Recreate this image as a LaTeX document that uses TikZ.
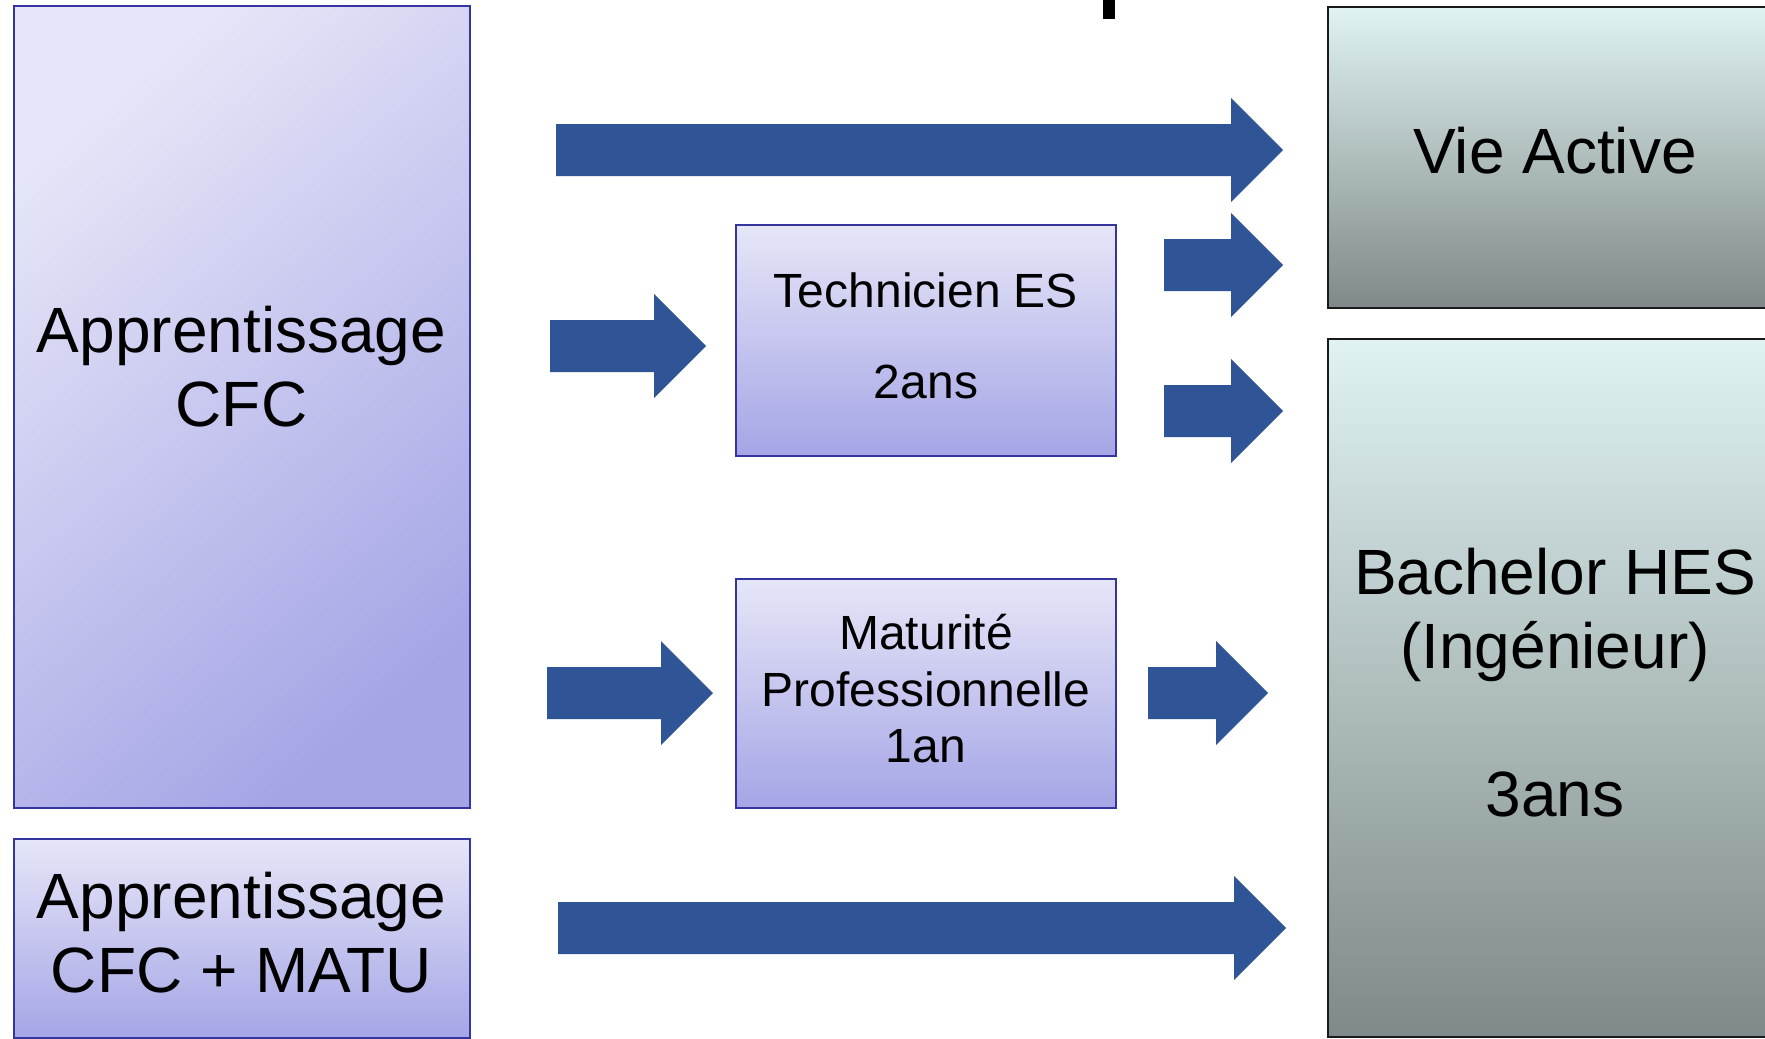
\documentclass[tikz,border=0pt]{standalone}
\usepackage{fontspec}
\setmainfont{Liberation Sans}
\definecolor{lavTop}{HTML}{E6E6F8}
\definecolor{lavBot}{HTML}{A5A5E6}
\definecolor{lavLine}{HTML}{3535A0}
\definecolor{grayTop}{HTML}{E0F2F2}
\definecolor{grayBot}{HTML}{7F8989}
\definecolor{grayLine}{HTML}{1A1A1A}
\definecolor{arrowBlue}{HTML}{2F5597}
\tikzset{
  lavdiag/.style={draw=lavLine, line width=2pt, top color=lavTop, bottom color=lavBot, shading angle=40, inner sep=0pt},
  lavvert/.style={draw=lavLine, line width=2pt, top color=lavTop, bottom color=lavBot, inner sep=0pt},
  graybox/.style={draw=grayLine, line width=2pt, top color=grayTop, bottom color=grayBot, inner sep=0pt},
  bigtxt/.style={font=\fontsize{64}{74}\selectfont, anchor=base, inner sep=0pt},
  smalltxt/.style={font=\fontsize{48}{56}\selectfont, anchor=base, inner sep=0pt},
  barrow/.pic={\fill[arrowBlue] (0,-26) -- (#1-52,-26) -- (#1-52,-52) -- (#1,0) -- (#1-52,52) -- (#1-52,26) -- (0,26) -- cycle;}
}
\begin{document}
\begin{tikzpicture}[x=1pt,y=-1pt]
\useasboundingbox (0,0) rectangle (1765,1039);
\fill[white] (0,0) rectangle (1765,1039);
% cut-off mark at top
\fill[black] (1103,-2) rectangle (1115,19);

% boxes
\node[lavdiag, minimum width=456pt, minimum height=802pt] (cfc) at (241.5,407) {};
\node[lavvert, minimum width=456pt, minimum height=199pt] (cfcm) at (241.5,938.5) {};
\node[lavvert, minimum width=380pt, minimum height=231pt] (tech) at (926,340.5) {};
\node[lavvert, minimum width=380pt, minimum height=229pt] (matu) at (926,693.5) {};
\node[graybox, minimum width=454pt, minimum height=301pt] (vie) at (1555,157.5) {};
\node[graybox, minimum width=454pt, minimum height=698pt] (bach) at (1555,688) {};

% texts
\node[bigtxt] (cfc1) at (241.5,352) {Apprentissage};
\node[bigtxt] (cfc2) at (241.5,426) {CFC};
\node[bigtxt] (cfcm1) at (241.5,918) {Apprentissage};
\node[bigtxt] (cfcm2) at (241.5,992) {CFC + MATU};
\node[smalltxt] (tech1) at (926,307) {Technicien ES};
\node[smalltxt] (tech2) at (926,398) {2ans};
\node[smalltxt] (matu1) at (926,649) {Maturité};
\node[smalltxt] (matu2) at (926,706) {Professionnelle};
\node[smalltxt] (matu3) at (926,762) {1an};
\node[bigtxt] (vie1) at (1555,173) {Vie Active};
\node[bigtxt] (bach1) at (1555,594) {Bachelor HES};
\node[bigtxt] (bach2) at (1555,668) {(Ingénieur)};
\node[bigtxt] (bach3) at (1555,816) {3ans};

% arrow anchors
\coordinate (a1) at (556,150);
\coordinate (a2) at (550,346);
\coordinate (a3) at (1164,265);
\coordinate (a4) at (1164,411);
\coordinate (a5) at (547,693);
\coordinate (a6) at (1148,693);
\coordinate (a7) at (558,928);

\pic at (a1) {barrow=727};
\pic at (a2) {barrow=156};
\pic at (a3) {barrow=119};
\pic at (a4) {barrow=119};
\pic at (a5) {barrow=166};
\pic at (a6) {barrow=120};
\pic at (a7) {barrow=728};
\end{tikzpicture}
\end{document}
